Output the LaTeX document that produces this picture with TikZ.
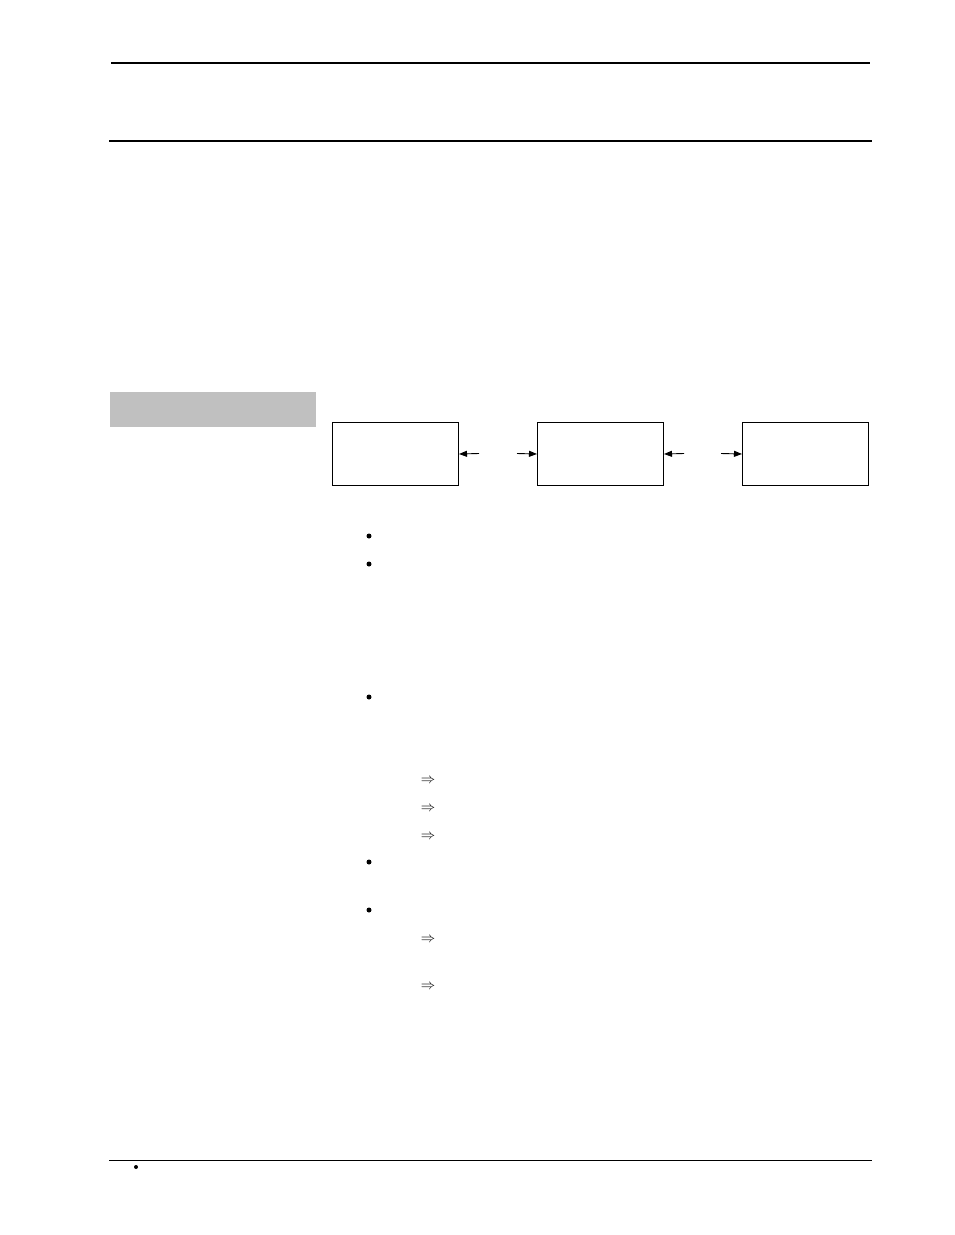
\documentclass[tikz,border=0pt]{standalone}
\usetikzlibrary{arrows.meta}
\begin{document}
\begin{tikzpicture}[x=1pt,y=-1pt,
  blk/.style={draw,line width=1pt,minimum width=126pt,minimum height=63pt,inner sep=0pt,anchor=north west},
  conn/.style={line width=0.9pt,-{Triangle[length=8pt,width=6pt]}},
  bul/.style={circle,fill=black,inner sep=0pt,minimum size=5pt},
  dbl/.style={inner sep=0pt,font=\fontsize{15}{15}\selectfont}]
\useasboundingbox (0,0) rectangle (954,1235);
% header rules
\draw[line width=2pt] (111,63) -- (870,63);
\draw[line width=2pt] (109,141) -- (872,141);
% footer rule
\draw[line width=1pt] (109,1160) -- (872,1160);
\node[bul,minimum size=4pt] (fb) at (136,1167) {};
% gray side bar
\fill[fill={rgb,255:red,192;green,192;blue,192}] (110,392) rectangle (316,427);
% boxes
\node[blk] (b1) at (332,422) {};
\node[blk] (b2) at (537,422) {};
\node[blk] (b3) at (742,422) {};
\coordinate (a1) at (479,453.5);
\coordinate (a2) at (517,453.5);
\coordinate (a3) at (684,453.5);
\coordinate (a4) at (721,453.5);
\draw[conn] (a1) -- (b1.east);
\draw[conn] (a2) -- (b2.west);
\draw[conn] (a3) -- (b2.east);
\draw[conn] (a4) -- (b3.west);
% bullets
\node[bul] (p1) at (369,536) {};
\node[bul] (p2) at (369,564) {};
\node[bul] (p3) at (369,697) {};
\node[bul] (p4) at (369,862) {};
\node[bul] (p5) at (369,910) {};
% implication arrows
\node[dbl] (r1) at (428,781) {$\Rightarrow$};
\node[dbl] (r2) at (428,809) {$\Rightarrow$};
\node[dbl] (r3) at (428,837) {$\Rightarrow$};
\node[dbl] (r4) at (428,940) {$\Rightarrow$};
\node[dbl] (r5) at (428,987) {$\Rightarrow$};
\end{tikzpicture}
\end{document}
